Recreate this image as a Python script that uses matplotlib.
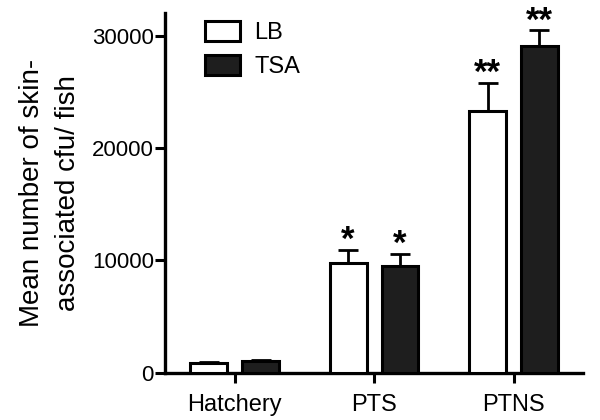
import numpy as np
import matplotlib.pyplot as plt
from matplotlib.patches import Patch

plt.rcParams['font.family'] = ['Liberation Sans', 'DejaVu Sans']

categories = ['Hatchery', 'PTS', 'PTNS']
lb_mean = [850, 9800, 23300]
lb_err = [100, 1100, 2500]
tsa_mean = [1050, 9550, 29100]
tsa_err = [120, 1050, 1350]
lb_sig = ['', '*', '**']
tsa_sig = ['', '*', '**']

x = np.arange(len(categories))
w = 0.265
off = 0.186

fig = plt.figure(figsize=(6, 4.2), dpi=100)
ax = fig.add_axes([0.275, 0.112, 0.697, 0.857])

ekw = dict(elinewidth=2, capthick=2, capsize=7, ecolor='black')
ax.bar(x - off, lb_mean, w, yerr=[np.zeros(3), lb_err], color='white',
       edgecolor='black', linewidth=2.2, error_kw=ekw, zorder=3)
ax.bar(x + off, tsa_mean, w, yerr=[np.zeros(3), tsa_err], color='#1e1e1e',
       edgecolor='black', linewidth=2.2, error_kw=ekw, zorder=3)

# significance stars above the error caps
for xs, m, e, sig in [(x - off, lb_mean, lb_err, lb_sig),
                      (x + off, tsa_mean, tsa_err, tsa_sig)]:
    for i in range(len(categories)):
        if sig[i]:
            ax.annotate(sig[i], (xs[i], m[i] + e[i]), xytext=(0, -5),
                        textcoords='offset points', ha='center', va='bottom',
                        fontsize=25, fontweight='bold')

ax.set_xlim(-0.5, 2.5)
ax.set_ylim(0, 32000)
ax.set_yticks([0, 10000, 20000, 30000])
ax.set_xticks(x)
ax.set_xticklabels(categories)
ax.tick_params(axis='both', width=2.2, length=7, labelsize=16, pad=1)
ax.tick_params(axis='x', labelsize=17, pad=8)
for s in ['top', 'right']:
    ax.spines[s].set_visible(False)
for s in ['left', 'bottom']:
    ax.spines[s].set_linewidth(2.4)

ax.set_ylabel('Mean number of skin-\nassociated cfu/ fish', fontsize=20,
              linespacing=1.5, labelpad=8)

handles = [Patch(facecolor='white', edgecolor='black', linewidth=2.2, label='LB'),
           Patch(facecolor='#1e1e1e', edgecolor='black', linewidth=2.2, label='TSA')]
ax.legend(handles=handles, loc='upper left', bbox_to_anchor=(40 / 418, 0.978),
          frameon=False, fontsize=17, handlelength=1.5, handleheight=0.95,
          handletextpad=0.6, labelspacing=0.45, borderpad=0, borderaxespad=0)

fig.savefig('out.png', dpi=100)
